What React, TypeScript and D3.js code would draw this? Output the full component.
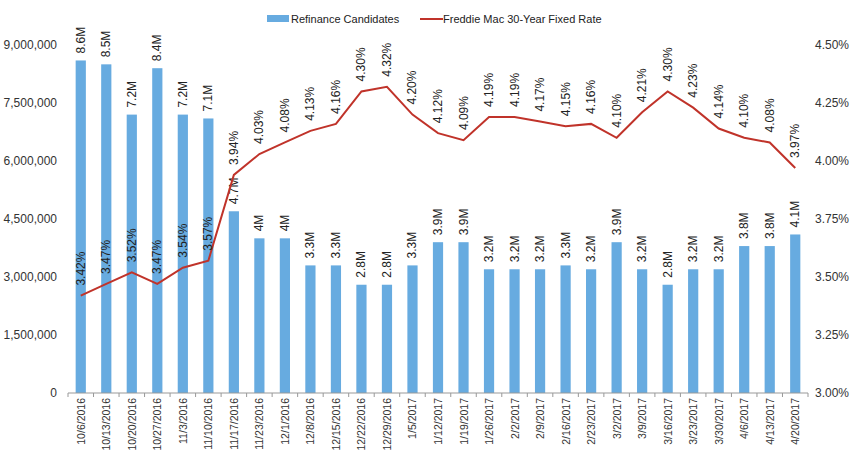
import React, { useEffect, useRef } from "react";
import * as d3 from "d3";

const dates = [
  "10/6/2016", "10/13/2016", "10/20/2016", "10/27/2016", "11/3/2016", "11/10/2016",
  "11/17/2016", "11/23/2016", "12/1/2016", "12/8/2016", "12/15/2016", "12/22/2016",
  "12/29/2016", "1/5/2017", "1/12/2017", "1/19/2017", "1/26/2017", "2/2/2017",
  "2/9/2017", "2/16/2017", "2/23/2017", "3/2/2017", "3/9/2017", "3/16/2017",
  "3/23/2017", "3/30/2017", "4/6/2017", "4/13/2017", "4/20/2017",
];

// refinance candidates, in millions
const candidates = [
  8.6, 8.5, 7.2, 8.4, 7.2, 7.1, 4.7, 4.0, 4.0, 3.3, 3.3, 2.8, 2.8, 3.3, 3.9,
  3.9, 3.2, 3.2, 3.2, 3.3, 3.2, 3.9, 3.2, 2.8, 3.2, 3.2, 3.8, 3.8, 4.1,
];

// Freddie Mac 30-year fixed rate, percent
const rates = [
  3.42, 3.47, 3.52, 3.47, 3.54, 3.57, 3.94, 4.03, 4.08, 4.13, 4.16, 4.3, 4.32,
  4.2, 4.12, 4.09, 4.19, 4.19, 4.17, 4.15, 4.16, 4.1, 4.21, 4.3, 4.23, 4.14,
  4.1, 4.08, 3.97,
];

const leftTicks = [0, 1500000, 3000000, 4500000, 6000000, 7500000, 9000000];
const rightTicks = [3.0, 3.25, 3.5, 3.75, 4.0, 4.25, 4.5];

const BAR = "#67abe0";
const LINE = "#c0332a";
const FONT = "Liberation Sans, Arial, sans-serif";

export default function App() {
  const ref = useRef<SVGSVGElement>(null);

  useEffect(() => {
    const svg = d3.select(ref.current);
    svg.selectAll("*").remove();

    const left = 68, right = 808, top = 45, bottom = 393;

    const x = d3.scaleBand().domain(dates).range([left, right]).paddingInner(0.6).paddingOuter(0.3);
    const yL = d3.scaleLinear().domain([0, 9000000]).range([bottom, top]);
    const yR = d3.scaleLinear().domain([3, 4.5]).range([bottom, top]);
    const cx = (d: string) => (x(d) as number) + x.bandwidth() / 2;

    const g = svg.append("g").style("font-family", FONT);

    // bars
    g.selectAll("rect.bar")
      .data(dates)
      .join("rect")
      .attr("class", "bar")
      .attr("x", (d) => x(d) as number)
      .attr("width", x.bandwidth())
      .attr("y", (d, i) => yL(candidates[i] * 1e6))
      .attr("height", (d, i) => bottom - yL(candidates[i] * 1e6))
      .attr("fill", BAR);

    // bar labels
    g.selectAll("text.blab")
      .data(dates)
      .join("text")
      .attr("class", "blab")
      .attr("transform", (d, i) => `translate(${cx(d) + 4},${yL(candidates[i] * 1e6) - 7}) rotate(-90)`)
      .attr("font-size", 12)
      .attr("fill", "#222")
      .text((d, i) => (candidates[i]).toFixed(1).replace(/\.0$/, "") + "M");

    // x axis
    const xAxis = g.append("g").attr("transform", `translate(0,${bottom})`);
    xAxis.append("line").attr("x1", left).attr("x2", right).attr("stroke", "#999");
    const step = x.step();
    const edge = (i: number) => left + x.paddingOuter() * step - (x.paddingInner() * step) / 2 + i * step;
    xAxis.selectAll("line.tk")
      .data(d3.range(dates.length + 1))
      .join("line")
      .attr("class", "tk")
      .attr("x1", edge)
      .attr("x2", edge)
      .attr("y2", 4)
      .attr("stroke", "#999");
    xAxis.selectAll("text")
      .data(dates)
      .join("text")
      .attr("transform", (d) => `translate(${cx(d) + 4},5) rotate(-90)`)
      .attr("text-anchor", "end")
      .attr("font-size", 10.5)
      .attr("fill", "#333")
      .text((d) => d);

    // left axis labels
    g.selectAll("text.yl")
      .data(leftTicks)
      .join("text")
      .attr("class", "yl")
      .attr("x", 57)
      .attr("y", (d) => yL(d) + 4)
      .attr("text-anchor", "end")
      .attr("font-size", 12)
      .attr("fill", "#333")
      .text((d) => d3.format(",")(d));

    // right axis labels
    g.selectAll("text.yr")
      .data(rightTicks)
      .join("text")
      .attr("class", "yr")
      .attr("x", 815)
      .attr("y", (d) => yR(d) + 4)
      .attr("font-size", 12)
      .attr("fill", "#333")
      .text((d) => d.toFixed(2) + "%");

    // rate line
    const line = d3.line<number>()
      .x((d, i) => cx(dates[i]))
      .y((d) => yR(d));
    g.append("path")
      .datum(rates)
      .attr("d", line)
      .attr("fill", "none")
      .attr("stroke", LINE)
      .attr("stroke-width", 2);

    g.selectAll("text.rlab")
      .data(rates)
      .join("text")
      .attr("class", "rlab")
      .attr("transform", (d, i) => `translate(${cx(dates[i]) + 4},${yR(d) - 10}) rotate(-90)`)
      .attr("font-size", 12)
      .attr("fill", "#222")
      .text((d) => d.toFixed(2) + "%");

    // legend
    const lg = g.append("g").attr("font-size", 11).attr("fill", "#222");
    lg.append("rect").attr("x", 267).attr("y", 15).attr("width", 22).attr("height", 7).attr("fill", BAR);
    lg.append("text").attr("x", 291).attr("y", 23).text("Refinance Candidates");
    lg.append("line").attr("x1", 420).attr("x2", 443).attr("y1", 19).attr("y2", 19).attr("stroke", LINE).attr("stroke-width", 2);
    lg.append("text").attr("x", 443).attr("y", 23).text("Freddie Mac 30-Year Fixed Rate");
  }, []);

  return (
    <svg
      ref={ref}
      width={853}
      height={454}
      style={{ position: "absolute", left: 0, top: 0, background: "#fff" }}
    />
  );
}
